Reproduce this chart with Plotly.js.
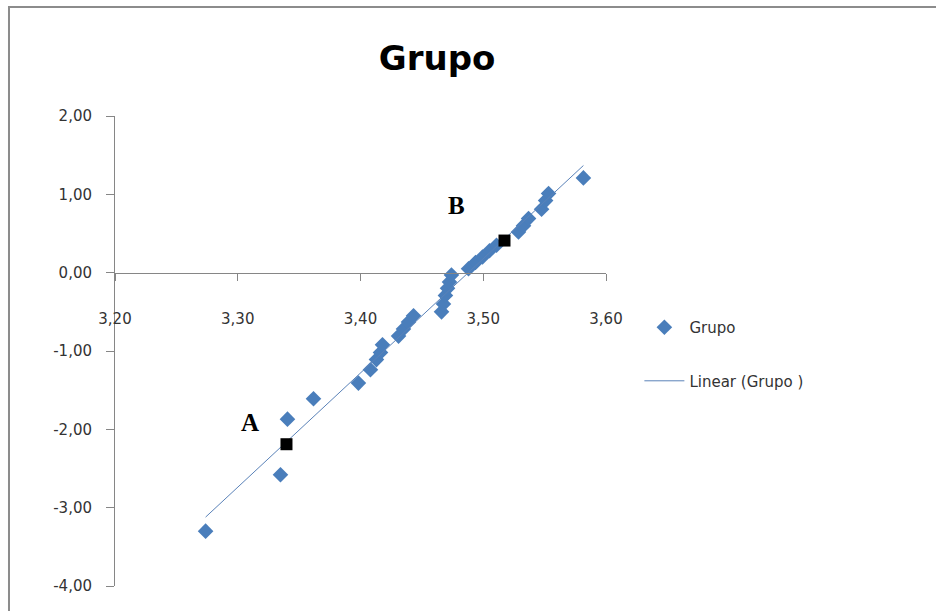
<!DOCTYPE html>
<html>
<head>
<meta charset="utf-8">
<script src="https://cdn.plot.ly/plotly-3.0.1.min.js"></script>
<style>
  html, body { margin: 0; padding: 0; background: #ffffff; }
  #chart { width: 936px; height: 611px; }
</style>
</head>
<body>
<div id="chart"></div>
<script>
// ---- data ----
const grupoX = [3.2738, 3.3348, 3.3405, 3.3617, 3.3983, 3.4081, 3.4130, 3.4163, 3.4179,
                3.4310, 3.4350, 3.4391, 3.4432, 3.4660, 3.4676, 3.4692, 3.4709, 3.4725,
                3.4741, 3.4880, 3.4937, 3.4994, 3.5051, 3.5108, 3.5287, 3.5328, 3.5369,
                3.5475, 3.5508, 3.5532, 3.5816];
const grupoY = [-3.30, -2.58, -1.87, -1.61, -1.41, -1.24, -1.11, -1.02, -0.92,
                -0.81, -0.72, -0.63, -0.55, -0.50, -0.40, -0.29, -0.20, -0.12,
                -0.03, 0.05, 0.13, 0.20, 0.28, 0.35, 0.52, 0.60, 0.69,
                0.81, 0.92, 1.01, 1.21];
const markLabels = ["A", "B"];
const markX = [3.3397, 3.5173];
const markY = [-2.19, 0.41];

const xTickVals = [3.2, 3.3, 3.4, 3.5, 3.6];
const xTickLabels = ["3,20", "3,30", "3,40", "3,50", "3,60"];
const yTickVals = [2, 1, 0, -1, -2, -3, -4];
const yTickLabels = ["2,00", "1,00", "0,00", "-1,00", "-2,00", "-3,00", "-4,00"];

// ---- linear trendline (least squares) from the series ----
const n = grupoX.length;
const mx = grupoX.reduce((a, b) => a + b, 0) / n;
const my = grupoY.reduce((a, b) => a + b, 0) / n;
let sxy = 0, sxx = 0;
for (let i = 0; i < n; i++) { sxy += (grupoX[i] - mx) * (grupoY[i] - my); sxx += (grupoX[i] - mx) ** 2; }
const slope = sxy / sxx;
const icpt = my - slope * mx;
const xMin = Math.min(...grupoX), xMax = Math.max(...grupoX);
const trendX = [xMin, xMax];
const trendY = trendX.map(v => icpt + slope * v);

const fontTicks = "DejaVu Sans, sans-serif";

const traces = [
  {
    x: grupoX, y: grupoY, type: "scatter", mode: "markers", name: "Grupo",
    legendgroup: "g1",
    marker: { symbol: "diamond", size: 12, color: "#4a7ebb", line: { width: 0 } },
    cliponaxis: false
  },
  {
    x: trendX, y: trendY, type: "scatter", mode: "lines", name: "Linear (Grupo )",
    legendgroup: "g2",
    line: { color: "#5a82b8", width: 1 }
  },
  {
    x: markX, y: markY, type: "scatter", mode: "markers", showlegend: false,
    marker: { symbol: "square", size: 12, color: "#000000" }
  }
];

const annotations = markLabels.map((t, i) => ({
  x: markX[i], y: markY[i], xref: "x", yref: "y",
  text: "<b>" + t + "</b>", showarrow: false,
  xshift: i === 0 ? -36 : -48, yshift: i === 0 ? 22 : 35,
  font: { family: "Liberation Serif, serif", size: 25, color: "#000000" }
}));

const layout = {
  width: 936, height: 611,
  margin: { l: 115, r: 330, t: 116, b: 25 },
  paper_bgcolor: "#ffffff", plot_bgcolor: "#ffffff",
  showlegend: true,
  hovermode: false,
  title: {
    text: "<b>Grupo</b>", xref: "container", yref: "container",
    x: 0.467, xanchor: "center", y: 0.905, yanchor: "middle",
    font: { family: "DejaVu Sans, sans-serif", size: 34, color: "#000000" }
  },
  xaxis: {
    range: [3.2, 3.6], tickvals: xTickVals, ticktext: xTickLabels,
    anchor: "free", position: 0.6667, side: "bottom",
    showline: true, linecolor: "#868686", linewidth: 1,
    ticks: "outside", ticklen: 7, tickcolor: "#868686", tickwidth: 1,
    ticklabelstandoff: 25,
    showgrid: false, zeroline: false,
    tickfont: { family: fontTicks, size: 15, color: "#333333" }
  },
  yaxis: {
    range: [-4, 2], tickvals: yTickVals, ticktext: yTickLabels,
    showline: true, linecolor: "#868686", linewidth: 1,
    ticks: "outside", ticklen: 8, tickcolor: "#868686", tickwidth: 1,
    ticklabelstandoff: 11,
    showgrid: false, zeroline: false,
    tickfont: { family: fontTicks, size: 15, color: "#333333" }
  },
  legend: {
    x: 1.068, xanchor: "left", y: 0.585, yanchor: "top",
    bgcolor: "rgba(0,0,0,0)", tracegroupgap: 31, itemwidth: 40,
    font: { family: fontTicks, size: 15, color: "#333333" }
  },
  annotations: annotations,
  shapes: [{
    type: "rect", xref: "paper", yref: "paper",
    x0: -0.2159, x1: 1.72, y0: -0.1, y1: 1.2319,
    line: { color: "#8c8c8c", width: 2 }, fillcolor: "rgba(0,0,0,0)", layer: "below"
  }]
};

Plotly.newPlot("chart", traces, layout, { displayModeBar: false, staticPlot: true });
</script>
</body>
</html>
